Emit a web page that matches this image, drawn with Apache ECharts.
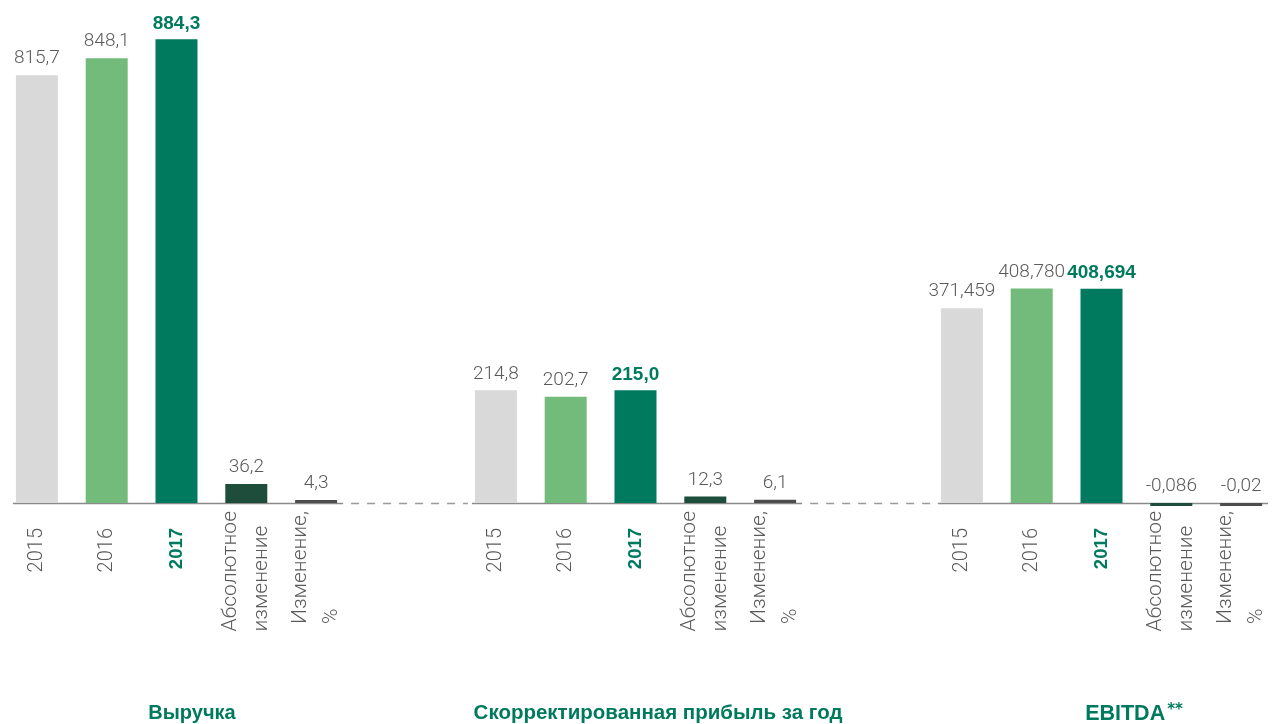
<!DOCTYPE html>
<html>
<head>
<meta charset="utf-8">
<script src="https://cdn.jsdelivr.net/npm/echarts@6/dist/echarts.min.js"></script>
<style>
  html, body { margin: 0; padding: 0; background: #ffffff; }
  #chart { width: 1277px; height: 724px; }
</style>
</head>
<body>
<div id="chart"></div>
<script>
// Category labels shared by the three indicator groups
const categories = ['2015', '2016', '2017', 'Абсолютное\nизменение', 'Изменение,\n%'];

// Indicator values (млрд руб. / %)
const revenue = [815.7, 848.1, 884.3, 36.2, 4.3];
const adjustedProfit = [214.8, 202.7, 215.0, 12.3, 6.1];
const ebitda = [371.459, 408.780, 408.694, -0.086, -0.02];

// Decimal places used in the value labels of each group
const revenueDecimals = [1, 1, 1, 1, 1];
const profitDecimals = [1, 1, 1, 1, 1];
const ebitdaDecimals = [3, 3, 3, 3, 2];

// Group captions under the axes
const groupTitles = ['Выручка', 'Скорректированная прибыль за год', 'EBITDA'];
const titleMark = '**';

const barColors = ['#d9d9d9', '#72bb7a', '#007a5e', '#1e4d3b', '#4d4d4d'];
const GREEN = '#007a5e';
const GREY_TEXT = '#5a5a5a';
const LIGHT = 'Roboto, "Liberation Sans", sans-serif';
const WIDE = '"Liberation Sans", sans-serif';

const groups = [
  { values: revenue, decimals: revenueDecimals, left: 2, titleX: 187 },
  { values: adjustedProfit, decimals: profitDecimals, left: 461, titleX: 653 },
  { values: ebitda, decimals: ebitdaDecimals, left: 927, titleX: 1129 }
];
const GRID_WIDTH = 349;

function fmt(v, d) {
  return v.toFixed(d).replace('.', ',');
}

function axisLabelText(value, index) {
  if (value.indexOf('\n') >= 0) {
    return value.split('\n').map(function (l) { return '{m|' + l + '}'; }).join('\n');
  }
  return (index === 2 ? '{yb|' : '{y|') + value + '}';
}

const chart = echarts.init(document.getElementById('chart'), null, { renderer: 'canvas' });

const option = {
  animation: false,
  backgroundColor: '#ffffff',
  title: groups.map(function (g, i) {
    return {
      text: i === 2 ? '{t|' + groupTitles[i] + '}{s|' + titleMark + '}' : groupTitles[i],
      left: g.titleX,
      top: 698,
      textAlign: 'center',
      textStyle: {
        fontFamily: WIDE,
        fontWeight: 'bold',
        fontSize: i === 1 ? 20.5 : 20,
        color: GREEN,
        rich: {
          t: { fontFamily: WIDE, fontWeight: 'bold', fontSize: 21.5, color: GREEN },
          s: { fontFamily: '"DejaVu Sans", sans-serif', fontWeight: 'bold', fontSize: 15, color: GREEN, verticalAlign: 'top', padding: [0, 0, 7, 2] }
        }
      }
    };
  }),
  grid: groups.map(function (g) {
    return { left: g.left, width: GRID_WIDTH, top: 31, bottom: 221, containLabel: false };
  }),
  xAxis: groups.map(function (g, i) {
    return {
      type: 'category',
      gridIndex: i,
      data: categories,
      axisLine: { show: false },
      axisTick: { show: false },
      splitLine: { show: false },
      axisLabel: {
        interval: 0,
        rotate: 90,
        margin: 8,
        formatter: axisLabelText,
        rich: {
          y: { fontFamily: LIGHT, fontWeight: 300, fontSize: 20, color: GREY_TEXT, padding: [0, 17, 0, 0] },
          yb: { fontFamily: WIDE, fontSize: 18.5, fontWeight: 'bold', color: GREEN, padding: [0, 17, 0, 0] },
          m: { fontFamily: LIGHT, fontWeight: 300, fontSize: 21, color: GREY_TEXT, align: 'left', lineHeight: 31 }
        }
      }
    };
  }),
  yAxis: groups.map(function (g, i) {
    return { type: 'value', gridIndex: i, min: 0, max: 900, show: false, splitLine: { show: false } };
  }),
  series: groups.map(function (g, i) {
    return {
      type: 'bar',
      xAxisIndex: i,
      yAxisIndex: i,
      barWidth: 42,
      barMinHeight: 3,
      clip: false,
      z: 3,
      data: g.values.map(function (v, k) {
        return {
          value: v,
          itemStyle: { color: barColors[k] },
          label: {
            show: true,
            position: 'top',
            distance: k === 2 ? 6 : 7,
            formatter: fmt(v, g.decimals[k]),
            fontFamily: k === 2 ? WIDE : LIGHT,
            fontWeight: k === 2 ? 'bold' : 300,
            fontSize: 19,
            color: k === 2 ? GREEN : GREY_TEXT
          }
        };
      })
    };
  })
};

chart.setOption(option);

// Baseline: a solid rule under each group, dashed links between the groups
(function drawBaseline() {
  const segs = groups.map(function (g, i) {
    const a = chart.convertToPixel({ gridIndex: i }, [0, 0]);
    const b = chart.convertToPixel({ gridIndex: i }, [categories.length - 1, 0]);
    return { x1: a[0] - 24, x2: b[0] + 27, y: a[1] };
  });
  const y = Math.round(segs[0].y) + 0.5;
  const elements = [];
  segs.forEach(function (s) {
    elements.push({
      type: 'line', z: 1,
      shape: { x1: s.x1, y1: y, x2: s.x2, y2: y },
      style: { stroke: '#8a8a8a', lineWidth: 1.5 }
    });
  });
  for (let i = 0; i < segs.length - 1; i++) {
    elements.push({
      type: 'line', z: 1,
      shape: { x1: segs[i].x2 + 8, y1: y, x2: segs[i + 1].x1 - 4, y2: y },
      style: { stroke: '#9a9a9a', lineWidth: 1.5, lineDash: [8, 8] }
    });
  }
  chart.setOption({ graphic: { elements: elements } });
})();
</script>
</body>
</html>
